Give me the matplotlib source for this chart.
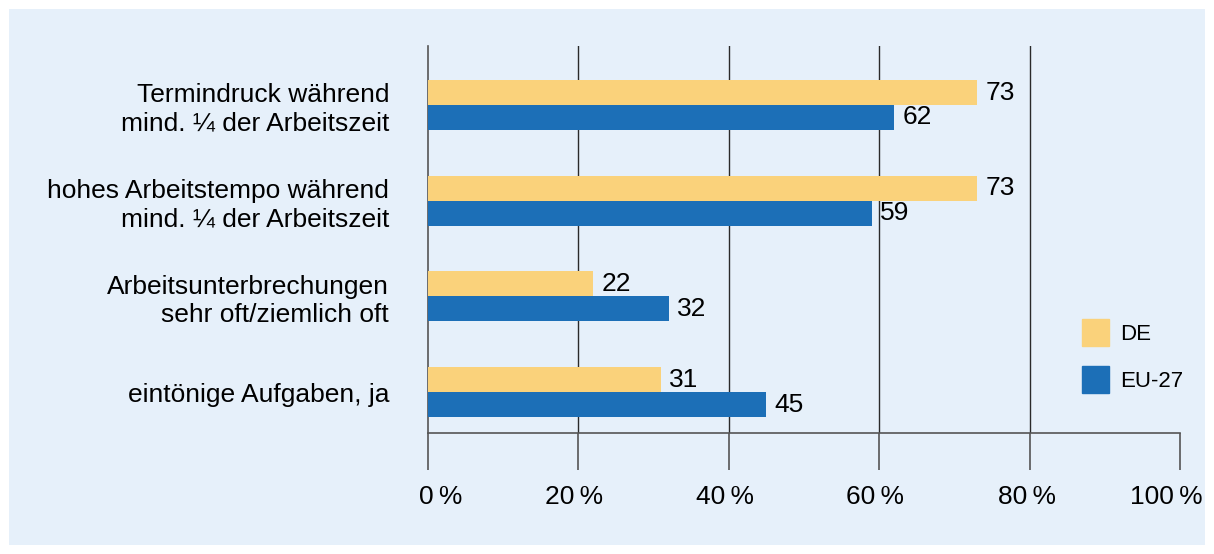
import numpy as np
import matplotlib.pyplot as plt
import matplotlib.transforms as mtransforms
from matplotlib.patches import Rectangle, Patch

plt.rcParams['font.family'] = ['Liberation Sans', 'DejaVu Sans']

categories = ["Termindruck während\nmind. \u00bc der Arbeitszeit",
              "hohes Arbeitstempo während\nmind. \u00bc der Arbeitszeit",
              "Arbeitsunterbrechungen\nsehr oft/ziemlich oft",
              "eintönige Aufgaben, ja"]
de_values = [73, 73, 22, 31]
eu_values = [62, 59, 32, 45]
series_names = ["DE", "EU-27"]
xticks = [0, 20, 40, 60, 80, 100]
xticklabels = ["%d\u2009%%" % t for t in xticks]

c_de = '#fad27b'
c_eu = '#1c6fb7'
bg = '#e6f0fa'
fs = 19

W, H = 1214, 554
fig = plt.figure(figsize=(W / 100, H / 100), dpi=100)
fig.patches.append(Rectangle((9 / W, 9 / H), (1205 - 9) / W, (545 - 9) / H,
                             transform=fig.transFigure, facecolor=bg,
                             edgecolor='none', zorder=-10))

ax = fig.add_axes([428 / W, 1 - 433 / H, (1180 - 428) / W, (433 - 46) / H])
ax.set_facecolor('none')

pos = np.arange(len(categories))
bh = 0.261
ax.barh(pos - bh / 2, de_values, height=bh, color=c_de, zorder=3)
ax.barh(pos + bh / 2, eu_values, height=bh, color=c_eu, zorder=3)
for p, v in zip(pos, de_values):
    ax.text(v + 1.1, p - bh / 2, str(v), va='center', ha='left', fontsize=fs)
for p, v in zip(pos, eu_values):
    ax.text(v + 1.1, p + bh / 2, str(v), va='center', ha='left', fontsize=fs)

ax.set_xlim(0, 100)
ax.set_ylim(3.428, -0.6165)
for t in xticks[1:-1]:
    ax.axvline(t, color='#2a2a2a', lw=1, zorder=1)

ax.set_xticks(xticks, xticklabels)
ax.set_yticks(pos, categories)
ax.tick_params(axis='x', length=26.6, width=1.2, color='#555555',
               labelsize=fs, pad=11)
ax.tick_params(axis='y', length=0, pad=28, labelsize=fs)
for lab in ax.get_yticklabels():
    lab.set_horizontalalignment('right')
    lab.set_multialignment('right')

# label shifts (pixels) as in the original layout
shifts = [13, -4, -4, -4, -3, -14]
for lab, dx in zip(ax.get_xticklabels(), shifts):
    lab.set_transform(lab.get_transform() +
                      mtransforms.ScaledTranslation(dx / 100, 0, fig.dpi_scale_trans))

for s in ['top', 'right']:
    ax.spines[s].set_visible(False)
ax.spines['bottom'].set_color('#555555')
ax.spines['bottom'].set_linewidth(1.2)
ax.spines['left'].set_color('#555555')
ax.spines['left'].set_linewidth(1.2)

handles = [Patch(color=c_de), Patch(color=c_eu)]
fig.legend(handles, series_names, loc='upper left',
           bbox_to_anchor=(1062 / W, 1 - 299 / H), frameon=False,
           fontsize=16, handlelength=1.215, handleheight=1.49,
           labelspacing=0.9, handletextpad=0.5)

fig.savefig('out.png', dpi=100)
